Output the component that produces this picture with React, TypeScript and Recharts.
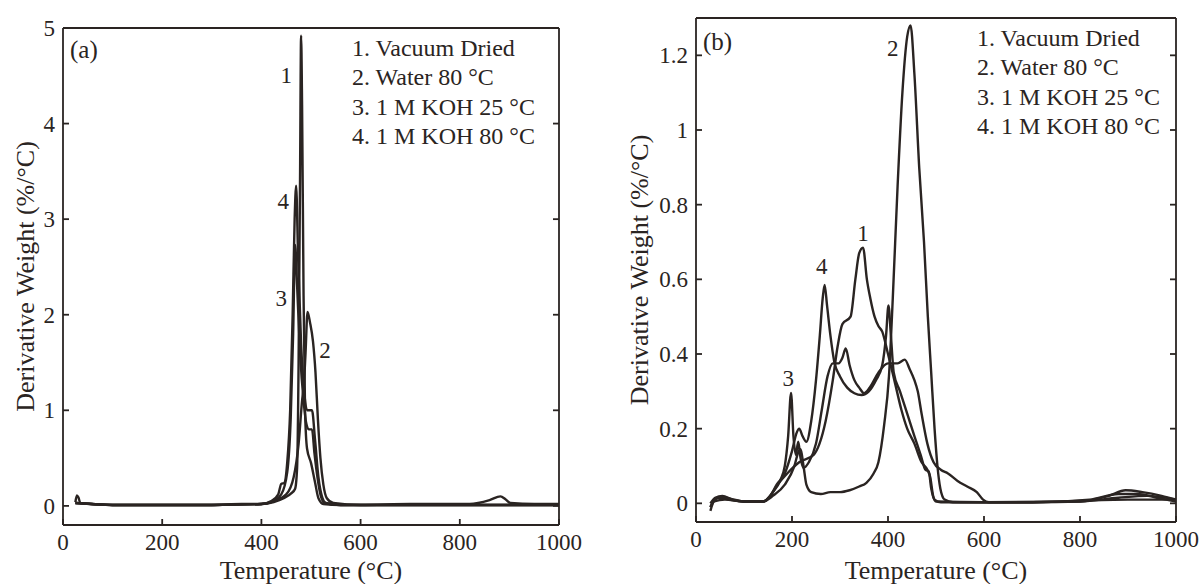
import React from 'react';
import { LineChart, Line, XAxis, YAxis, Label, Legend, ReferenceDot } from 'recharts';

type Pt = [number, number];

const INK = '#2a2422';
const FONT = '"Liberation Serif", "Times New Roman", serif';

const legendNames = ['1. Vacuum Dried', '2. Water 80 °C', '3. 1 M KOH 25 °C', '4. 1 M KOH 80 °C'];
const xTicks = [0, 200, 400, 600, 800, 1000];
const aYTicks = [0, 1, 2, 3, 4, 5];
const bYTicks = [0, 0.2, 0.4, 0.6, 0.8, 1, 1.2];

// panel (a) – temperature (°C), derivative weight (%/°C)
const aVacuum: Pt[] = [
  [25, 0.04], [28, 0.11], [31, 0.09], [35, 0.03], [60, 0.02], [100, 0.01], [200, 0.01], [300, 0.01],
  [360, 0.02], [400, 0.02], [425, 0.04], [445, 0.08], [460, 0.13], [468, 0.18], [472, 0.4], [475, 1.5],
  [478, 3.5], [480, 4.92], [482, 4.2], [485, 2.2], [488, 1.0], [492, 0.6], [500, 0.45], [508, 0.25],
  [515, 0.08], [525, 0.02], [560, 0.01], [700, 0.01], [800, 0.01], [1000, 0.01],
];
const aWater: Pt[] = [
  [25, 0.03], [60, 0.02], [100, 0.01], [300, 0.01], [400, 0.02], [425, 0.05], [450, 0.12], [465, 0.3],
  [475, 0.65], [482, 1.1], [486, 1.3], [489, 1.6], [493, 2.03], [498, 1.92], [504, 1.72], [509, 1.4],
  [514, 0.9], [519, 0.5], [525, 0.22], [532, 0.08], [545, 0.03], [600, 0.01], [700, 0.02], [820, 0.02],
  [860, 0.06], [882, 0.1], [892, 0.07], [902, 0.03], [950, 0.02], [1000, 0.02],
];
const aKoh25: Pt[] = [
  [25, 0.03], [100, 0.01], [300, 0.01], [400, 0.02], [420, 0.04], [440, 0.12], [452, 0.35], [459, 0.9],
  [464, 1.8], [468, 2.73], [472, 2.3], [478, 1.6], [485, 1.1], [491, 0.85], [496, 0.8], [502, 0.8],
  [507, 0.55], [513, 0.3], [520, 0.1], [528, 0.03], [560, 0.01], [1000, 0.01],
];
const aKoh80: Pt[] = [
  [25, 0.03], [100, 0.01], [300, 0.01], [400, 0.02], [420, 0.05], [434, 0.12], [440, 0.23], [446, 0.24],
  [452, 0.45], [458, 1.0], [463, 2.0], [467, 3.0], [470, 3.35], [474, 2.6], [480, 1.7], [487, 1.15],
  [492, 1.0], [502, 1.0], [508, 0.7], [515, 0.3], [522, 0.1], [530, 0.03], [560, 0.01], [1000, 0.01],
];
const aTags = [
  { t: 450, v: 4.51, text: '1' },
  { t: 528, v: 1.63, text: '2' },
  { t: 440, v: 2.18, text: '3' },
  { t: 444, v: 3.19, text: '4' },
];

// panel (b)
const bVacuum: Pt[] = [
  [30, -0.01], [38, 0.01], [50, 0.015], [70, 0.01], [100, 0.005], [140, 0.005], [155, 0.02], [170, 0.05],
  [190, 0.08], [215, 0.11], [245, 0.13], [270, 0.22], [285, 0.33], [295, 0.42], [305, 0.48], [322, 0.5],
  [332, 0.6], [340, 0.67], [348, 0.685], [356, 0.6], [363, 0.55], [372, 0.5], [380, 0.475], [388, 0.46],
  [400, 0.4], [415, 0.32], [428, 0.25], [440, 0.2], [455, 0.16], [470, 0.11], [482, 0.09], [488, 0.07],
  [494, 0.02], [500, 0.005], [600, 0.003], [800, 0.005], [880, 0.015], [940, 0.02], [1000, 0.01],
];
const bWater: Pt[] = [
  [30, -0.02], [38, 0.005], [60, 0.01], [100, 0.005], [140, 0.005], [160, 0.02], [185, 0.05], [205, 0.1],
  [214, 0.14], [218, 0.145], [224, 0.1], [230, 0.05], [240, 0.03], [260, 0.025], [280, 0.03], [300, 0.03],
  [320, 0.035], [340, 0.045], [355, 0.055], [370, 0.08], [380, 0.11], [392, 0.21], [402, 0.34], [410, 0.55],
  [420, 0.85], [430, 1.1], [440, 1.25], [447, 1.28], [455, 1.15], [465, 0.9], [475, 0.7], [483, 0.5],
  [490, 0.35], [497, 0.2], [503, 0.1], [509, 0.04], [518, 0.01], [535, 0.003], [700, 0.003], [900, 0.01],
  [1000, 0.01],
];
const bKoh25: Pt[] = [
  [30, 0.0], [40, 0.015], [55, 0.02], [75, 0.01], [100, 0.005], [140, 0.005], [160, 0.03], [175, 0.06],
  [185, 0.1], [192, 0.18], [198, 0.296], [203, 0.18], [208, 0.13], [213, 0.165], [218, 0.12], [224, 0.095],
  [235, 0.11], [250, 0.16], [262, 0.25], [274, 0.34], [285, 0.375], [297, 0.375], [305, 0.39], [312, 0.415],
  [320, 0.37], [330, 0.33], [340, 0.31], [350, 0.295], [362, 0.31], [380, 0.35], [400, 0.375], [420, 0.375],
  [435, 0.385], [445, 0.36], [455, 0.33], [462, 0.3], [470, 0.24], [482, 0.16], [495, 0.11], [510, 0.09],
  [525, 0.08], [545, 0.06], [565, 0.045], [585, 0.03], [598, 0.01], [610, 0.003], [700, 0.003], [800, 0.005],
  [860, 0.02], [895, 0.035], [930, 0.03], [970, 0.02], [1000, 0.01],
];
const bKoh80: Pt[] = [
  [30, -0.01], [45, 0.015], [60, 0.015], [80, 0.01], [100, 0.005], [140, 0.005], [155, 0.02], [168, 0.05],
  [185, 0.08], [200, 0.14], [210, 0.19], [215, 0.2], [222, 0.18], [230, 0.165], [240, 0.22], [250, 0.33],
  [258, 0.45], [264, 0.55], [268, 0.585], [273, 0.53], [280, 0.45], [288, 0.38], [300, 0.34], [315, 0.31],
  [330, 0.295], [345, 0.29], [360, 0.3], [375, 0.33], [388, 0.37], [396, 0.45], [401, 0.53], [406, 0.45],
  [412, 0.35], [425, 0.3], [440, 0.24], [455, 0.18], [468, 0.13], [478, 0.09], [485, 0.085], [490, 0.04],
  [497, 0.01], [510, 0.003], [700, 0.003], [820, 0.01], [880, 0.025], [920, 0.025], [960, 0.015], [1000, 0.005],
];
const bTags = [
  { t: 348, v: 0.725, text: '1' },
  { t: 410, v: 1.22, text: '2' },
  { t: 192, v: 0.335, text: '3' },
  { t: 262, v: 0.635, text: '4' },
];

const rows = (pts: Pt[]) => pts.map(([t, v]) => ({ t, v }));

const tickStyle = { fill: INK, fontSize: 23, fontFamily: FONT };
const tickLineStyle = { stroke: INK, strokeWidth: 1.8 };
const blank = () => '';

const LegendBox = ({ payload }: any) => (
  <div style={{ fontFamily: FONT, fontSize: 24, lineHeight: '29.3px', color: INK, whiteSpace: 'nowrap' }}>
    {(payload || []).map((p: any) => (
      <div key={p.value}>{p.value}</div>
    ))}
  </div>
);

interface PanelProps {
  series: Pt[][];
  tags: { t: number; v: number; text: string }[];
  yTicks: number[];
  yDomain: [number, number];
  width: number;
  margin: { top: number; right: number; bottom: number; left: number };
  yAxisWidth: number;
  xAxisHeight: number;
  yLabelOffset: number;
  legendPos: { left: number; top: number };
}

const Panel = (p: PanelProps) => (
  <LineChart width={p.width} height={584} margin={p.margin}>
    <XAxis
      dataKey="t" type="number" domain={[0, 1000]} ticks={xTicks} height={p.xAxisHeight}
      stroke={INK} strokeWidth={1.8} tickSize={-6} tickMargin={15} tick={tickStyle}
      tickLine={tickLineStyle} allowDataOverflow
    >
      <Label value="Temperature (°C)" position="insideBottom" offset={5}
        style={{ fill: INK, fontSize: 26, fontFamily: FONT }} />
    </XAxis>
    <XAxis
      xAxisId="top" orientation="top" type="number" domain={[0, 1000]} ticks={xTicks} height={1}
      stroke={INK} strokeWidth={1.8} tickSize={-6} tickFormatter={blank} tickLine={tickLineStyle}
      allowDataOverflow
    />
    <YAxis
      type="number" domain={p.yDomain} ticks={p.yTicks} width={p.yAxisWidth}
      stroke={INK} strokeWidth={1.8} tickSize={-6} tickMargin={14} tick={tickStyle}
      tickLine={tickLineStyle} allowDataOverflow
    >
      <Label value="Derivative Weight (%/°C)" angle={-90} position="insideLeft" offset={p.yLabelOffset}
        style={{ fill: INK, fontSize: 26, fontFamily: FONT, textAnchor: 'middle' }} />
    </YAxis>
    <YAxis
      yAxisId="right" orientation="right" type="number" domain={p.yDomain} ticks={p.yTicks} width={1}
      stroke={INK} strokeWidth={1.8} tickSize={-6} tickFormatter={blank} tickLine={tickLineStyle}
      allowDataOverflow
    />
    {p.series.map((s, i) => (
      <Line
        key={legendNames[i]} data={rows(s)} dataKey="v" name={legendNames[i]} type="monotone"
        stroke={INK} strokeWidth={2.4} dot={false} activeDot={false} isAnimationActive={false}
      />
    ))}
    {p.tags.map((g) => (
      <ReferenceDot key={g.text} x={g.t} y={g.v} r={0} fill="none" stroke="none"
        label={{ value: g.text, position: 'center', fill: INK, fontSize: 23, fontFamily: FONT }} />
    ))}
    <Legend
      layout="vertical" align="center" verticalAlign="middle" content={<LegendBox />}
      wrapperStyle={{ left: p.legendPos.left, top: p.legendPos.top, width: 'auto' }}
    />
  </LineChart>
);

const App = () => (
  <div style={{ position: 'absolute', left: 0, top: 0, width: 1199, height: 584, background: '#fff', fontFamily: FONT }}>
    <div style={{ position: 'absolute', left: 0, top: 0 }}>
      <Panel
        series={[aVacuum, aWater, aKoh25, aKoh80]} tags={aTags} yTicks={aYTicks} yDomain={[-0.2, 5]}
        width={600} margin={{ top: 27, right: 40, bottom: 0, left: 0 }} yAxisWidth={63} xAxisHeight={59}
        yLabelOffset={25} legendPos={{ left: 352, top: 34 }}
      />
      <span style={{ position: 'absolute', left: 70, top: 37, fontSize: 25, lineHeight: '25px', color: INK }}>(a)</span>
    </div>
    <div style={{ position: 'absolute', left: 600, top: 0 }}>
      <Panel
        series={[bVacuum, bWater, bKoh25, bKoh80]} tags={bTags} yTicks={bYTicks} yDomain={[-0.05, 1.3]}
        width={599} margin={{ top: 17, right: 22, bottom: 0, left: 0 }} yAxisWidth={96} xAxisHeight={62}
        yLabelOffset={39} legendPos={{ left: 377, top: 24 }}
      />
      <span style={{ position: 'absolute', left: 103, top: 29, fontSize: 25, lineHeight: '25px', color: INK }}>(b)</span>
    </div>
  </div>
);

export default App;
